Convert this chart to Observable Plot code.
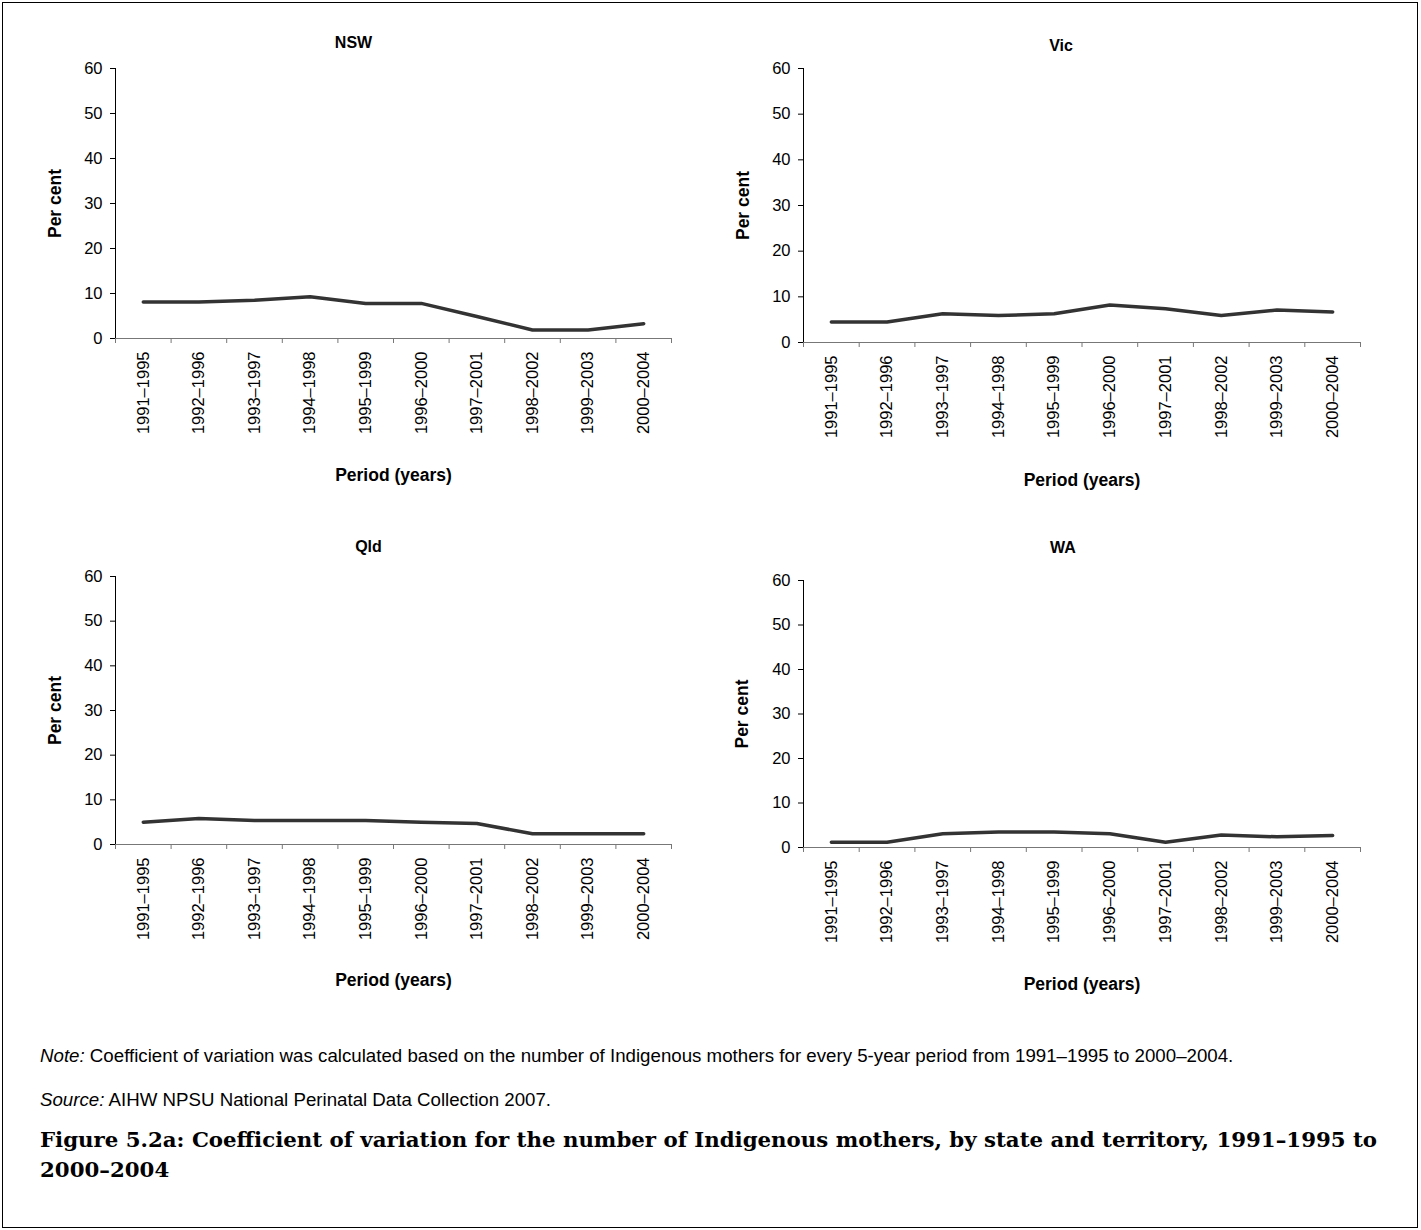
<!DOCTYPE html>
<html><head><meta charset="utf-8">
<script src="https://cdn.jsdelivr.net/npm/d3@7"></script>
<script src="https://cdn.jsdelivr.net/npm/@observablehq/plot@0.6"></script>
<style>
body{margin:0;background:#fff;}
#wrap{position:relative;width:1421px;height:1230px;font-family:"Liberation Sans",Arial,sans-serif;color:#000;}
#border{position:absolute;left:2px;top:2px;width:1414px;height:1224px;border:1px solid #000;}
.panel{position:absolute;}
.note{position:absolute;left:40px;font-size:18.7px;line-height:21px;white-space:nowrap;}
.fig{position:absolute;left:40px;font-family:"DejaVu Serif",serif;font-weight:bold;font-size:21.3px;line-height:30px;}
</style></head><body>
<div id="wrap"><div id="border"></div></div>
<script>
// ---- data ----
const periods = ["1991–1995","1992–1996","1993–1997","1994–1998","1995–1999","1996–2000","1997–2001","1998–2002","1999–2003","2000–2004"];
const states = ["NSW","Vic","Qld","WA"];
const nswValues = [8.1, 8.1, 8.5, 9.3, 7.8, 7.8, 4.9, 1.9, 1.9, 3.3];
const vicValues = [4.5, 4.5, 6.3, 5.9, 6.3, 8.2, 7.4, 5.9, 7.1, 6.7];
const qldValues = [5.0, 5.8, 5.4, 5.4, 5.4, 5.0, 4.7, 2.4, 2.4, 2.4];
const waValues  = [1.2, 1.2, 3.1, 3.5, 3.5, 3.1, 1.2, 2.8, 2.4, 2.7];
const yTicks = [0, 10, 20, 30, 40, 50, 60];
const yLabel = "Per cent";
const xLabel = "Period (years)";
const noteText = "Coefficient of variation was calculated based on the number of Indigenous mothers for every 5-year period from 1991–1995 to 2000–2004.";
const sourceText = "AIHW NPSU National Perinatal Data Collection 2007.";
const figTitle = "Figure 5.2a: Coefficient of variation for the number of Indigenous mothers, by state and territory, 1991–1995 to 2000–2004";

const seriesByState = {NSW: nswValues, Vic: vicValues, Qld: qldValues, WA: waValues};

// layout (positions only)
const layouts = {
  NSW: {left: 0,   top: 20,  mLeft: 115, mRight: 39, mTop: 48, mBottom: 162, titleDx: -40, titleDy: -26, pcDx: -60, prDy: 137},
  Vic: {left: 690, top: 20,  mLeft: 113, mRight: 40, mTop: 48, mBottom: 158, titleDx: -21, titleDy: -23, pcDx: -60, prDy: 138},
  Qld: {left: 0,   top: 525, mLeft: 115, mRight: 39, mTop: 51, mBottom: 161, titleDx: -25, titleDy: -30, pcDx: -60, prDy: 136},
  WA:  {left: 690, top: 525, mLeft: 113, mRight: 40, mTop: 55, mBottom: 158, titleDx: -19, titleDy: -33, pcDx: -61, prDy: 137}
};

const wrap = document.getElementById("wrap");
const idx = periods.map((_, i) => i);
const bounds = periods.map((_, i) => i - 0.5).concat([periods.length - 0.5]);

for (const st of states) {
  const L = layouts[st];
  const data = seriesByState[st].map((v, i) => ({i, v}));
  const chart = Plot.plot({
    width: 710, height: 480,
    marginLeft: L.mLeft, marginRight: L.mRight, marginTop: L.mTop, marginBottom: L.mBottom,
    style: {fontFamily: '"Liberation Sans", Arial, sans-serif', fontSize: "16.5px", color: "#000", background: "transparent"},
    x: {type: "linear", domain: [bounds[0], bounds[bounds.length - 1]], axis: null},
    y: {domain: [0, 60], axis: null},
    marks: [
      Plot.axisY({ticks: yTicks, tickSize: 5, tickPadding: 8, label: null, fontSize: 16.5, stroke: "#000"}),
      Plot.axisX({ticks: bounds, tickSize: 5, tickFormat: () => "", label: null, stroke: "#777"}),
      Plot.axisX({ticks: idx, tickSize: 0, tickPadding: 13, tickRotate: -90, tickFormat: i => periods[i], label: null, fontSize: 16.5}),
      Plot.ruleY([0], {stroke: "#777", strokeWidth: 1.2}),
      Plot.ruleX([bounds[0]], {stroke: "#000", strokeWidth: 1}),
      Plot.lineY(data, {x: "i", y: "v", stroke: "#333", strokeWidth: 3.5}),
      Plot.text([st], {frameAnchor: "top", dx: L.titleDx, dy: L.titleDy, fontWeight: "bold", fontSize: 16, lineAnchor: "middle"}),
      Plot.text([yLabel], {frameAnchor: "left", dx: L.pcDx, rotate: -90, textAnchor: "middle", fontWeight: "bold", fontSize: 17.5, lineAnchor: "middle"}),
      Plot.text([xLabel], {frameAnchor: "bottom", dy: L.prDy, fontWeight: "bold", fontSize: 17.5, lineAnchor: "middle"})
    ]
  });
  const div = document.createElement("div");
  div.className = "panel";
  div.style.left = L.left + "px";
  div.style.top = L.top + "px";
  div.appendChild(chart);
  wrap.appendChild(div);
}

const note = document.createElement("div");
note.className = "note"; note.style.top = "1045px";
note.innerHTML = "<i>Note:</i> " + noteText;
wrap.appendChild(note);
const src = document.createElement("div");
src.className = "note"; src.style.top = "1089px";
src.innerHTML = "<i>Source:</i> " + sourceText;
wrap.appendChild(src);
const fig = document.createElement("div");
fig.className = "fig"; fig.style.top = "1125px"; fig.style.width = "1360px";
fig.textContent = figTitle;
wrap.appendChild(fig);
</script>
</body></html>
